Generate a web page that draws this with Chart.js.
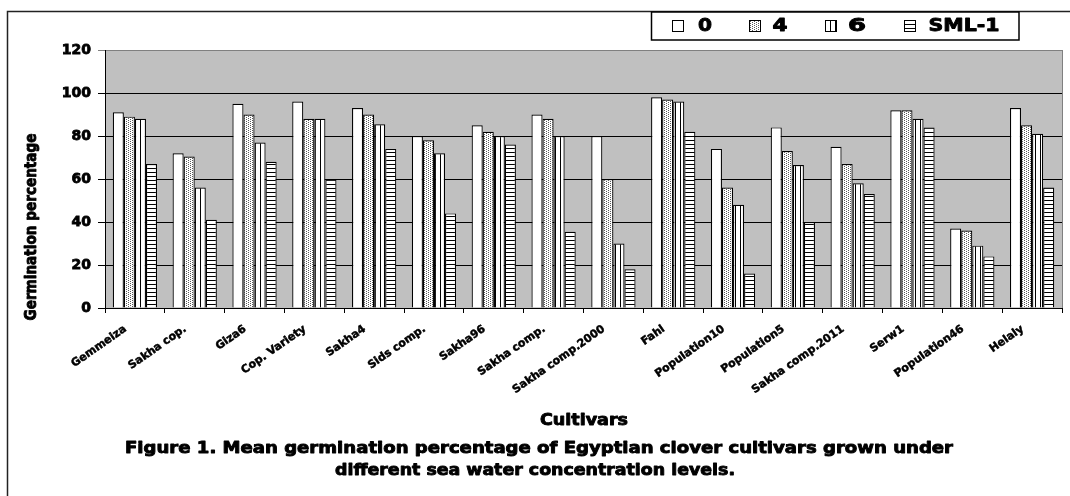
<!DOCTYPE html>
<html>
<head>
<meta charset="utf-8">
<script src="https://cdn.jsdelivr.net/npm/chart.js@4.4.1/dist/chart.umd.min.js"></script>
<style>
  html, body { margin: 0; padding: 0; background: #fff; }
  #wrap { position: relative; width: 1070px; height: 496px; }
</style>
</head>
<body>
<div id="wrap"><canvas id="chart"></canvas></div>
<script>
// Cultivars and mean germination (%) at each sea water level
const cultivars = ["Gemmeiza", "Sakha cop.", "Giza6", "Cop. Variety", "Sakha4", "Sids comp.",
  "Sakha96", "Sakha comp.", "Sakha comp.2000", "Fahl", "Population10", "Population5",
  "Sakha comp.2011", "Serw1", "Population46", "Helaly"];
const level0 = [91, 72, 95, 96, 93, 80, 85, 90, 80, 98, 74, 84, 75, 92, 37, 93];
const level4 = [89, 70.5, 90, 88, 90, 78, 82, 88, 60, 97, 56, 73, 67, 92, 36, 85];
const level6 = [88, 56, 77, 88, 85.5, 72, 80, 80, 30, 96, 48, 66.5, 58, 88, 29, 81];
const levelSML1 = [67, 41, 68, 60, 74, 44, 76, 35.5, 18, 82, 16, 40, 53, 84, 24, 56];
const seriesNames = ["0", "4", "6", "SML-1"];
const yTicks = [0, 20, 40, 60, 80, 100, 120];

const FONT = "'DejaVu Sans', 'Liberation Sans', sans-serif";

// Fill patterns for the bars
function makePattern(kind) {
  const c = document.createElement('canvas');
  const g = c.getContext('2d');
  if (kind === 'plain') {
    c.width = 1; c.height = 1;
    g.fillStyle = '#fff'; g.fillRect(0, 0, 1, 1);
  } else if (kind === 'dots') {
    c.width = 4; c.height = 2;
    g.fillStyle = '#fff'; g.fillRect(0, 0, 4, 2);
    g.fillStyle = '#5a5a5a';
    g.fillRect(0, 0, 1, 1); g.fillRect(2, 1, 1, 1);
  } else if (kind === 'vlines') {
    c.width = 5; c.height = 1;
    g.fillStyle = '#fff'; g.fillRect(0, 0, 5, 1);
    g.fillStyle = '#000'; g.fillRect(0, 0, 1, 1);
  } else {
    c.width = 1; c.height = 4;
    g.fillStyle = '#fff'; g.fillRect(0, 0, 1, 4);
    g.fillStyle = '#000'; g.fillRect(0, 0, 1, 1);
  }
  return g.createPattern(c, 'repeat');
}
const fills = [makePattern('plain'), makePattern('dots'), makePattern('vlines'), makePattern('hlines')];
const seriesValues = [level0, level4, level6, levelSML1];

// Heavy text squeezed/stretched to a given width
function fitText(ctx, text, x, y, width, size, rot) {
  ctx.save();
  ctx.font = 'bold ' + size + 'px ' + FONT;
  ctx.fillStyle = '#000';
  ctx.strokeStyle = '#000';
  ctx.lineWidth = 0.9;
  ctx.lineJoin = 'round';
  ctx.textAlign = 'center';
  ctx.textBaseline = 'middle';
  const w = ctx.measureText(text).width;
  ctx.translate(x, y);
  if (rot) ctx.rotate(rot);
  ctx.scale(width / w, 1);
  ctx.fillText(text, 0, 0);
  ctx.strokeText(text, 0, 0);
  ctx.restore();
}

const decor = {
  id: 'decor',
  beforeDraw(chart) {
    const { ctx, chartArea: a } = chart;
    ctx.save();
    ctx.fillStyle = '#c0c0c0';
    ctx.fillRect(a.left, a.top, a.right - a.left, a.bottom - a.top);
    ctx.restore();
  },
  afterDraw(chart) {
    const { ctx, chartArea: a } = chart;
    ctx.save();
    // plot area right edge
    ctx.strokeStyle = '#808080';
    ctx.lineWidth = 1;
    ctx.beginPath();
    ctx.moveTo(Math.round(a.right) + 0.5, a.top);
    ctx.lineTo(Math.round(a.right) + 0.5, a.bottom);
    ctx.stroke();
    // outer frame
    ctx.strokeStyle = '#222';
    ctx.lineWidth = 1.5;
    ctx.beginPath();
    ctx.moveTo(7.5, 496);
    ctx.lineTo(7.5, 11.5);
    ctx.lineTo(1070, 11.5);
    ctx.stroke();
    // legend box
    ctx.fillStyle = '#fff';
    ctx.fillRect(651, 12, 368, 28);
    ctx.strokeStyle = '#000';
    ctx.lineWidth = 1.5;
    ctx.strokeRect(651.5, 12, 367.5, 28);
    const swatchX = [672, 749, 825, 904];
    const labelX = [705, 780, 857, 964];
    const labelW = [14, 15, 18, 71];
    for (let i = 0; i < 4; i++) {
      ctx.fillStyle = chart.data.datasets[i].backgroundColor;
      ctx.fillRect(swatchX[i], 20, 12, 12);
      ctx.strokeStyle = '#000';
      ctx.lineWidth = 1;
      ctx.strokeRect(swatchX[i] + 0.5, 20.5, 11, 11);
      fitText(ctx, seriesNames[i], labelX[i], 26.5, labelW[i], 18);
    }
    ctx.restore();
    // axis titles and caption
    fitText(ctx, 'Germination percentage', 32, 227, 187, 16, -Math.PI / 2);
    fitText(ctx, 'Cultivars', 584, 421, 88, 16);
    fitText(ctx, 'Figure 1. Mean germination percentage of Egyptian clover cultivars grown under', 539, 449, 828, 16);
    fitText(ctx, 'different sea water concentration levels.', 535, 471, 400, 16);
  }
};

const datasets = seriesNames.map((name, i) => ({
  label: name,
  data: seriesValues[i],
  backgroundColor: fills[i],
  borderColor: '#000',
  borderWidth: 1.2,
  categoryPercentage: 0.74,
  barPercentage: 1.0
}));

new Chart(document.getElementById('chart'), {
  type: 'bar',
  data: { labels: cultivars, datasets },
  plugins: [decor],
  options: {
    responsive: true,
    maintainAspectRatio: false,
    animation: false,
    layout: { padding: { left: 0, top: 50, right: 8, bottom: 0 } },
    plugins: { legend: { display: false }, tooltip: { enabled: false } },
    scales: {
      x: {
        grid: { display: true, drawOnChartArea: false, drawTicks: true, tickLength: 5, color: '#000', offset: true },
        border: { display: true, color: '#000', width: 1 },
        ticks: {
          autoSkip: false, minRotation: 35, maxRotation: 35, padding: 3,
          color: '#000', textStrokeColor: '#000', textStrokeWidth: 0.5,
          font: { family: FONT, size: 11, weight: 'bold' },
          // pad the end so each name finishes just left of its group centre
          callback(value) { return this.getLabelForValue(value) + '   '; }
        },
        afterFit(scale) { scale.height = 188; }
      },
      y: {
        min: 0, max: 120,
        afterBuildTicks(scale) { scale.ticks = yTicks.map(v => ({ value: v })); },
        grid: {
          drawTicks: true, tickLength: 7,
          color: (c) => (c.tick && c.tick.value === 120 ? '#808080' : '#000'),
          lineWidth: 1
        },
        border: { display: true, color: '#000', width: 1 },
        ticks: {
          padding: 7, color: '#000', textStrokeColor: '#000', textStrokeWidth: 0.8,
          font: { family: FONT, size: 14, weight: 'bold' }
        },
        afterFit(scale) { scale.width = 105; }
      }
    }
  }
});
</script>
</body>
</html>
